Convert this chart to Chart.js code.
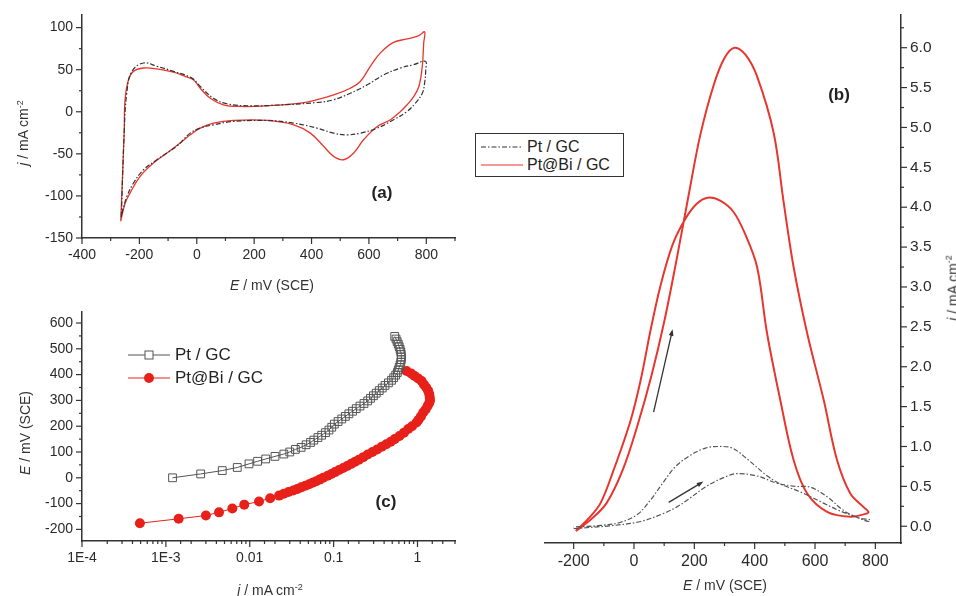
<!DOCTYPE html>
<html>
<head>
<meta charset="utf-8">
<script src="https://cdn.jsdelivr.net/npm/chart.js@4.4.0/dist/chart.umd.min.js"></script>
<style>
  body { margin:0; width:956px; height:596px; background:#fff; position:relative; overflow:hidden;
         font-family:"Liberation Sans", Arial, sans-serif; color:#222; }
  canvas { position:absolute; }
  .lbl { position:absolute; white-space:nowrap; transform:translate(-50%,-50%); font-size:14px; color:#333; }
  .rot { transform:translate(-50%,-50%) rotate(-90deg); }
  .tag { position:absolute; font-weight:bold; font-size:17px; transform:translate(-50%,-50%); color:#222; }
  sup { font-size:9px; }
  .legend { position:absolute; left:475px; top:133px; width:147px; height:42px; border:1.5px solid #333; background:#fff; font-size:16px; }
  .row { position:absolute; left:5px; display:flex; align-items:center; height:18px; }
  .row svg { margin-right:4px; }
  .legc { position:absolute; left:128px; font-size:17px; display:flex; align-items:center; height:20px; }
  .legc svg { margin-right:5px; }
</style>
</head>
<body>
<canvas id="cva" width="480" height="300" style="left:0;top:0"></canvas>
<canvas id="cvb" width="416" height="596" style="left:540px;top:0"></canvas>
<canvas id="cvc" width="480" height="296" style="left:0;top:300px"></canvas>

<div class="lbl rot" style="left:23px;top:133px"><i>j</i> / mA cm<sup>-2</sup></div>
<div class="lbl" style="left:272px;top:285px"><i>E</i> / mV (SCE)</div>
<div class="lbl rot" style="left:25px;top:433px"><i>E</i> / mV (SCE)</div>
<div class="lbl" style="left:270px;top:590px"><i>j</i> / mA cm<sup>-2</sup></div>
<div class="lbl" style="left:725px;top:585px"><i>E</i> / mV (SCE)</div>
<div class="lbl rot" style="left:952px;top:288px"><i>j</i> / mA cm<sup>-2</sup></div>

<div class="tag" style="left:382px;top:193px">(a)</div>
<div class="tag" style="left:839px;top:95px">(b)</div>
<div class="tag" style="left:386px;top:502px">(c)</div>

<div class="legend">
  <div class="row" style="top:4px"><svg width="42" height="4"><line x1="0" y1="2" x2="42" y2="2" stroke="#333" stroke-width="1.2" stroke-dasharray="5 2 1.5 2"/></svg>Pt / GC</div>
  <div class="row" style="top:22px"><svg width="42" height="4"><line x1="0" y1="2" x2="42" y2="2" stroke="#e8362e" stroke-width="1.2"/></svg>Pt@Bi / GC</div>
</div>
<div class="legc" style="top:345px"><svg width="42" height="12"><line x1="0" y1="6" x2="42" y2="6" stroke="#555" stroke-width="1"/><rect x="17" y="2" width="8" height="8" fill="#fff" stroke="#555" stroke-width="1"/></svg>Pt / GC</div>
<div class="legc" style="top:368px"><svg width="42" height="12"><line x1="0" y1="6" x2="42" y2="6" stroke="#e8201a" stroke-width="1"/><circle cx="21" cy="6" r="5" fill="#e8201a"/></svg>Pt@Bi / GC</div>

<script>
// (a) CV in blank solution, closed loops (anodic then cathodic)
const cvE_Pt = [-263,-253,-244,-226,-186,-139,-81,-17,12,58,105,186,303,419,477,535,594,652,710,756,797,
                798,794,786,762,733,686,629,570,524,477,419,338,245,128,58,12,-23,-70,-104,-139,-186,-221,-244,-258,-263];
const cvJ_Pt = [-125,-25,22,48,58,54,48,40,30,16,9.5,7.1,8.3,11,14.3,22,32,44,52,56,60,
                50,34,22,10.3,0.4,-9.5,-19.4,-25.4,-27.4,-25.4,-19.4,-13.5,-10.3,-11.5,-15.5,-19.4,-25.4,-41,-49,-57,-69,-85,-101,-117,-125];
const cvE_PtBi = [-265,-253,-250,-238,-221,-186,-139,-81,-41,-12,12,47,93,151,245,361,419,477,535,570,605,640,686,733,774,794,
                  791,786,774,756,733,710,675,629,582,547,512,477,442,396,338,245,128,58,12,-23,-58,-104,-151,-198,-233,-250,-265];
const cvJ_PtBi = [-130,-25,14,38,48,52,51,47,42,38,28,16,8.3,6.3,7.1,10.3,14.3,20,28,36,54,70,82.5,86.5,90.5,95,
                  82,54,30,18,8.3,0.4,-9.5,-17.5,-33,-49,-57,-53,-41,-25.4,-15.5,-10.3,-10.3,-13.5,-19.4,-27.4,-37,-49,-61,-77,-97,-109,-130];

// (b) methanol oxidation, forward then backward scan
const moE_Pt = [-200,-68,22,98,141,177,244,310,343,409,474,535,585,640,694,740,777,
                783,750,684,628,552,485,442,376,326,280,237,187,138,95,55,12,-44,-111,-200];
const moJ_Pt = [-0.03,0.01,0.06,0.16,0.24,0.33,0.51,0.63,0.66,0.63,0.54,0.50,0.49,0.37,0.20,0.11,0.06,
                0.08,0.10,0.19,0.29,0.43,0.53,0.63,0.84,0.98,1.00,0.98,0.89,0.75,0.54,0.33,0.15,0.05,0.01,-0.01];
const moE_PtBi = [-193,-144,-91,-38,12,58,101,141,181,220,264,300,333,370,408,463,495,529,574,629,673,717,761,777,
                  772,717,640,574,529,485,441,408,370,330,287,244,207,168,128,88,55,22,-11,-68,-111,-150,-193];
const moJ_PtBi = [-0.06,0.08,0.29,0.70,1.27,1.89,2.58,3.34,4.15,4.91,5.53,5.87,6.00,5.91,5.64,4.93,4.09,3.25,2.42,1.58,0.83,0.41,0.24,0.18,
                  0.16,0.12,0.18,0.41,0.83,1.58,2.42,3.25,3.65,3.94,4.08,4.12,4.04,3.84,3.53,3.02,2.46,1.83,1.33,0.70,0.29,0.10,-0.06];
const arrows = [[65,1.43,128,2.47],[115,0.30,230,0.56]];

// (c) Tafel plots
const tafE_Pt = [0,15,28,40,54,64,73,83,92,100,110,118,128,137,146,156,165,175,185,196,208,218,228,238,248,258,268,278,288,298,
                 308,318,328,338,348,358,368,378,388,398,408,418,428,438,448,458,468,478,488,498,508,518,528,538,548];
const tafI_Pt = [0.0012,0.0026,0.0047,0.0071,0.0098,0.0124,0.0155,0.020,0.0255,0.030,0.035,0.041,0.047,0.053,0.058,0.065,0.072,0.080,0.088,0.095,
                 0.102,0.113,0.125,0.138,0.152,0.168,0.186,0.206,0.230,0.255,0.275,0.298,0.322,0.350,0.380,0.410,0.450,0.490,0.520,0.550,
                 0.575,0.590,0.605,0.620,0.632,0.640,0.643,0.640,0.632,0.620,0.605,0.590,0.572,0.555,0.535];
const tafE_PtBi = [-176,-159,-146,-134,-119,-104,-92,-79,-69,-62,-55,-49,-43,-37,-31,-25,-19,-13,-7,0,8,15,22,30,38,46,54,62,70,80,
                   90,100,110,120,130,140,150,162,175,189,200,214,225,238,253,265,278,290,300,312,325,337,350,362,375,385,395,404,414];
const tafI_PtBi = [0.00049,0.00142,0.0030,0.0043,0.0062,0.0086,0.0129,0.0175,0.0224,0.0255,0.029,0.033,0.037,0.041,0.046,0.051,0.056,0.062,0.068,0.075,
                   0.085,0.094,0.104,0.116,0.130,0.145,0.162,0.180,0.200,0.226,0.255,0.290,0.330,0.375,0.425,0.480,0.535,0.610,0.690,0.775,
                   0.860,0.973,1.03,1.10,1.17,1.25,1.32,1.38,1.41,1.40,1.38,1.34,1.27,1.19,1.12,1.02,0.92,0.84,0.74];

const RED = '#e8362e', DARK = '#333';
const FONT = '"Liberation Sans", Arial, sans-serif';
const pts = (xs, ys) => xs.map((v, i) => ({x: v, y: ys[i]}));
const near = (a, b) => Math.abs(a - b) < 1e-6;
const isDecade = v => near(Math.log10(v), Math.round(Math.log10(v)));

// which ticks get a label (and a long tick mark)
const majA = {x: v => v % 200 === 0 && v <= 800, y: v => v % 50 === 0};
const majB = {x: v => v % 200 === 0, y: v => near(v * 2, Math.round(v * 2))};
const majC = {x: isDecade, y: v => v % 100 === 0};

function axis(extra, size) {
  return Object.assign({
    type: 'linear',
    border: {display: true, color: DARK, width: 1.5},
    // tick marks are drawn by the tickMarks plugin, the grid only reserves the room
    grid: {drawOnChartArea: false, drawTicks: true, tickLength: 6, color: 'rgba(0,0,0,0)'},
  }, extra, {
    ticks: Object.assign({color: '#2a2a2a', font: {family: FONT, size: size || 14},
            autoSkip: false, maxRotation: 0, padding: 3, includeBounds: false}, extra.ticks || {})
  });
}

function tickMarks(major) {
  return {
    id: 'tickMarks',
    afterDraw(chart) {
      const ctx = chart.ctx;
      ctx.save();
      ctx.strokeStyle = DARK; ctx.lineWidth = 1.2;
      ['x', 'y'].forEach(k => {
        const sc = chart.scales[k];
        sc.ticks.forEach(t => {
          const p = sc.getPixelForValue(t.value);
          const len = major[k](t.value) ? 6 : 3;
          ctx.beginPath();
          if (k === 'x') { ctx.moveTo(p, sc.top); ctx.lineTo(p, sc.top + len); }
          else if (sc.position === 'right') { ctx.moveTo(sc.left, p); ctx.lineTo(sc.left + len, p); }
          else { ctx.moveTo(sc.right, p); ctx.lineTo(sc.right - len, p); }
          ctx.stroke();
        });
      });
      ctx.restore();
    }
  };
}

const baseOpts = {responsive: false, animation: false,
  plugins: {legend: {display: false}, tooltip: {enabled: false}}};

// panel (a)
new Chart(document.getElementById('cva'), {
  type: 'scatter',
  data: {datasets: [
    {data: pts(cvE_Pt, cvJ_Pt), showLine: true, borderColor: DARK, borderWidth: 1.2, borderDash: [5,2,1.5,2], pointRadius: 0, tension: 0.4},
    {data: pts(cvE_PtBi, cvJ_PtBi), showLine: true, borderColor: RED, borderWidth: 1.3, pointRadius: 0, tension: 0.4}
  ]},
  options: Object.assign({}, baseOpts, {
    layout: {padding: {left: 0, top: 15, right: 25, bottom: 0}},
    scales: {
      x: axis({min: -400, max: 900, afterFit: s => { s.height = 62; },
               ticks: {stepSize: 100, callback: v => majA.x(v) ? v : ''}}),
      y: axis({min: -150, max: 115, afterFit: s => { s.width = 82; },
               ticks: {stepSize: 25, callback: v => majA.y(v) ? v : ''}})
    }
  }),
  plugins: [tickMarks(majA)]
});

// panel (b)
const arrowPlugin = {
  id: 'arrows',
  afterDatasetsDraw(chart) {
    const {ctx, scales: {x, y}} = chart;
    ctx.save();
    ctx.strokeStyle = DARK; ctx.fillStyle = DARK; ctx.lineWidth = 1.3;
    arrows.forEach(([e0, j0, e1, j1]) => {
      const x0 = x.getPixelForValue(e0), y0 = y.getPixelForValue(j0);
      const x1 = x.getPixelForValue(e1), y1 = y.getPixelForValue(j1);
      const a = Math.atan2(y1 - y0, x1 - x0);
      ctx.beginPath(); ctx.moveTo(x0, y0); ctx.lineTo(x1 - 4 * Math.cos(a), y1 - 4 * Math.sin(a)); ctx.stroke();
      ctx.beginPath();
      ctx.moveTo(x1, y1);
      ctx.lineTo(x1 - 7 * Math.cos(a - 0.35), y1 - 7 * Math.sin(a - 0.35));
      ctx.lineTo(x1 - 7 * Math.cos(a + 0.35), y1 - 7 * Math.sin(a + 0.35));
      ctx.closePath(); ctx.fill();
    });
    ctx.restore();
  }
};
new Chart(document.getElementById('cvb'), {
  type: 'scatter',
  data: {datasets: [
    {data: pts(moE_Pt, moJ_Pt), showLine: true, borderColor: '#555', borderWidth: 1.2, borderDash: [5,2,1.5,2], pointRadius: 0, tension: 0.35},
    {data: pts(moE_PtBi, moJ_PtBi), showLine: true, borderColor: RED, borderWidth: 2, pointRadius: 0, tension: 0.35}
  ]},
  options: Object.assign({}, baseOpts, {
    layout: {padding: {left: 5, top: 15, right: 0, bottom: 0}},
    scales: {
      x: axis({min: -295, max: 885, afterFit: s => { s.height = 53; },
               ticks: {stepSize: 100, callback: v => majB.x(v) ? v : ''}}, 16),
      y: axis({position: 'right', min: -0.21, max: 6.41, afterFit: s => { s.width = 55; },
               ticks: {stepSize: 0.25, callback: v => majB.y(v) ? v.toFixed(1) : ''}}, 15.5)
    }
  }),
  plugins: [arrowPlugin, tickMarks(majB)]
});

// panel (c)
new Chart(document.getElementById('cvc'), {
  type: 'scatter',
  data: {datasets: [
    {data: pts(tafI_Pt, tafE_Pt), showLine: true, borderColor: '#555', borderWidth: 1, pointStyle: 'rect', pointRadius: 5.5,
     pointBackgroundColor: 'rgba(255,255,255,0)', pointBorderColor: '#555', pointBorderWidth: 1},
    {data: pts(tafI_PtBi, tafE_PtBi), showLine: true, borderColor: '#e8201a', borderWidth: 1, pointStyle: 'circle', pointRadius: 5,
     pointBackgroundColor: '#e8201a', pointBorderColor: '#e8201a', pointBorderWidth: 0}
  ]},
  options: Object.assign({}, baseOpts, {
    layout: {padding: {left: 0, top: 10, right: 25, bottom: 0}},
    scales: {
      x: axis({type: 'logarithmic', min: 1e-4, max: 2.8, afterFit: s => { s.height = 55; },
               ticks: {callback: v => {
                 if (!majC.x(v)) return '';
                 const n = Math.round(Math.log10(v));
                 return n <= -3 ? '1E' + n : String(Math.pow(10, n));
               }}}),
      y: axis({min: -245, max: 645, afterFit: s => { s.width = 82; },
               ticks: {stepSize: 50, callback: v => majC.y(v) ? v : ''}})
    }
  }),
  plugins: [tickMarks(majC)]
});
</script>
</body>
</html>
